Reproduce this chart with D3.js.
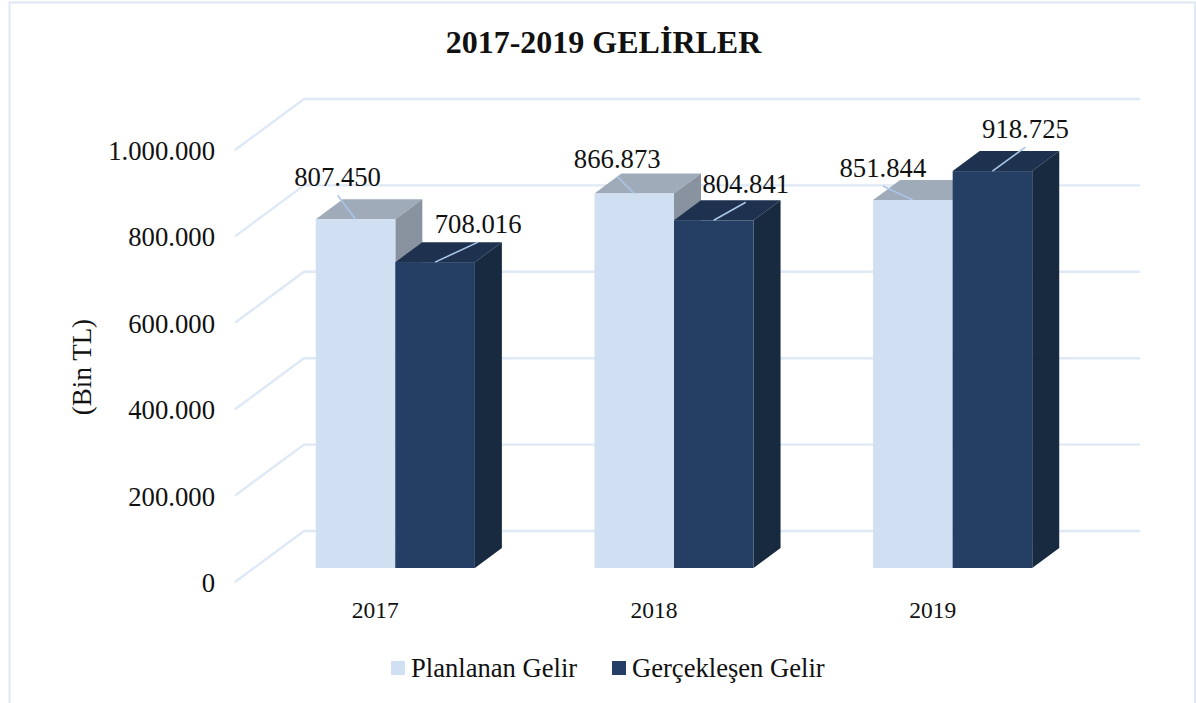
<!DOCTYPE html>
<html>
<head>
<meta charset="utf-8">
<script src="https://cdn.jsdelivr.net/npm/d3@7"></script>
<style>
  html, body { margin: 0; padding: 0; background: #fff; overflow: hidden; }
  text { font-family: "Liberation Serif", serif; fill: #111; }
  .domain { display: none; }
</style>
</head>
<body>
<script>
const years = ['2017', '2018', '2019']
const seriesNames = ['Planlanan Gelir', 'Gerçekleşen Gelir']
const planned = [807450, 866873, 851844]
const actual = [708016, 804841, 918725]
const yTicks = [0, 200000, 400000, 600000, 800000, 1000000]

const width = 1196
const height = 703

const colors = [
  { front: '#d0dff2', top: '#a0abb9', side: '#89939f' },
  { front: '#243f63', top: '#1e324f', side: '#182a40' }
]
const gridColor = '#dfe9f6'
const leaderColor = '#a9c5e8'

// wall/floor depth of the chart box and of the bars
const wall = { dx: 69, dy: -51 }
const depth = { dx: 27, dy: -20 }

const fmt = d3.formatLocale({ decimal: ',', thousands: '.', grouping: [3], currency: ['', ''] }).format(',')

const svg = d3.select('body').append('svg')
  .attr('width', width)
  .attr('height', height)
  .style('display', 'block')

// frame
svg.append('path')
  .attr('d', `M${9.5},${height} V2.5 H${width - 1} V${height}`)
  .attr('fill', 'none')
  .attr('stroke', gridColor)
  .attr('stroke-width', 2)

const yFront = d3.scaleLinear().domain([0, 1000000]).range([582, 150])
const yBar = d3.scaleLinear().domain([0, 1000000]).range([568, 136])

const x0 = d3.scaleBand().domain(years).range([256, 1092]).paddingInner(0.429).paddingOuter(0.2145)
const x1 = d3.scaleBand().domain([0, 1]).range([0, x0.bandwidth()])

// gridlines: slanted part on the side wall, then along the back wall
svg.append('g').selectAll('path')
  .data(yTicks)
  .enter()
  .append('path')
  .attr('d', d => `M235,${yFront(d)} l${wall.dx},${wall.dy} H1140`)
  .attr('fill', 'none')
  .attr('stroke', gridColor)
  .attr('stroke-width', 2.4)

const rows = years.map((year, i) => [
  { year, s: 0, value: planned[i] },
  { year, s: 1, value: actual[i] }
]).flat()

const bars = svg.append('g').selectAll('g')
  .data(rows)
  .enter()
  .append('g')
  .attr('transform', d => `translate(${x0(d.year) + x1(d.s)},0)`)

const bw = x1.bandwidth()

bars.append('path')
  .attr('d', d => `M0,${yBar(d.value)} l${depth.dx},${depth.dy} h${bw} l${-depth.dx},${-depth.dy} Z`)
  .attr('fill', d => colors[d.s].top)

bars.append('path')
  .attr('d', d => `M${bw},${yBar(d.value)} l${depth.dx},${depth.dy} V${yBar(0) + depth.dy} L${bw},${yBar(0)} Z`)
  .attr('fill', d => colors[d.s].side)

bars.append('rect')
  .attr('y', d => yBar(d.value))
  .attr('width', bw)
  .attr('height', d => yBar(0) - yBar(d.value))
  .attr('fill', d => colors[d.s].front)

// data labels sit where they were dragged to in the original, one offset per bar
const labelShift = [
  [-18, -42], [43, -38],
  [-17, -35], [32, -36],
  [-30, -32], [33, -42]
]

const labels = svg.append('g').selectAll('g')
  .data(rows)
  .enter()
  .append('g')
  .attr('transform', d => `translate(${x0(d.year) + x1(d.s) + bw / 2},${yBar(d.value)})`)

labels.append('line')
  .attr('x1', 0)
  .attr('y1', 0)
  .attr('x2', (d, i) => labelShift[i][0])
  .attr('y2', (d, i) => labelShift[i][1] + 18)
  .attr('stroke', leaderColor)
  .attr('stroke-width', 1.6)

labels.append('text')
  .attr('x', (d, i) => labelShift[i][0])
  .attr('y', (d, i) => labelShift[i][1] + 9)
  .attr('text-anchor', 'middle')
  .style('font-size', '26.7px')
  .text(d => fmt(d.value))

// y axis, on the front edge of the floor
const yAxis = svg.append('g')
  .attr('transform', 'translate(215,1)')
  .call(d3.axisLeft(yFront).tickValues(yTicks).tickFormat(fmt).tickSize(0).tickPadding(0))
yAxis.selectAll('text')
  .style('font-size', '26.7px')

// category labels are centred under the front of the floor, left of the bars
const xAxis = svg.append('g')
  .attr('transform', 'translate(-20,601)')
  .call(d3.axisBottom(x0).tickSize(0).tickPadding(0))
xAxis.selectAll('text')
  .style('font-size', '23.5px')
  .attr('dy', '0.71em')

svg.append('text')
  .attr('transform', 'translate(91,367) rotate(-90)')
  .attr('text-anchor', 'middle')
  .style('font-size', '27px')
  .text('(Bin TL)')

svg.append('text')
  .attr('x', 603.5)
  .attr('y', 53)
  .attr('text-anchor', 'middle')
  .style('font-size', '32px')
  .style('font-weight', 'bold')
  .text('2017-2019 GELİRLER')

// legend
const legendX = [391, 612]
const legend = svg.append('g').selectAll('g')
  .data(seriesNames)
  .enter()
  .append('g')
  .attr('transform', (d, i) => `translate(${legendX[i]},661)`)

legend.append('rect')
  .attr('width', 14)
  .attr('height', 14)
  .attr('fill', (d, i) => colors[i].front)

legend.append('text')
  .attr('x', 20)
  .attr('y', 16)
  .style('font-size', '26.6px')
  .text(d => d)
</script>
</body>
</html>
